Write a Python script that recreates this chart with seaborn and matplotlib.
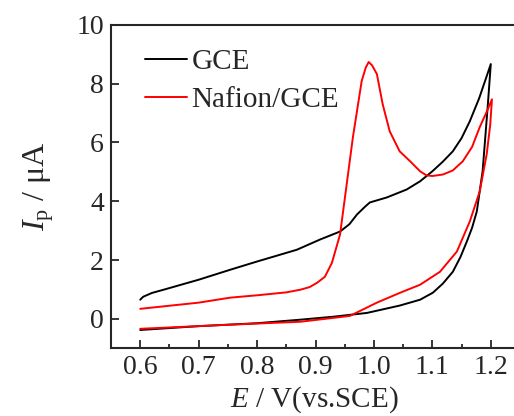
import matplotlib
matplotlib.use("Agg")
import matplotlib.pyplot as plt
import numpy as np
import seaborn as sns
from matplotlib.ticker import MultipleLocator

# GCE: forward scan then reverse scan (E in V, I in uA)
gce_e = [0.60, 0.605, 0.62, 0.64, 0.70, 0.754, 0.80, 0.868, 0.908, 0.942, 0.958,
         0.971, 0.985, 0.993, 1.005, 1.022, 1.056, 1.079, 1.10, 1.118, 1.135,
         1.15, 1.164, 1.18, 1.192, 1.20,
         1.195, 1.186, 1.176, 1.168, 1.159, 1.148, 1.135, 1.118, 1.101, 1.079,
         1.044, 0.988, 0.93, 0.874, 0.80, 0.70, 0.60]
gce_i = [0.65, 0.75, 0.88, 0.99, 1.33, 1.67, 1.95, 2.35, 2.70, 2.97, 3.22,
         3.55, 3.82, 3.96, 4.03, 4.13, 4.40, 4.68, 5.02, 5.35, 5.70,
         6.15, 6.72, 7.50, 8.20, 8.67,
         7.30, 5.02, 3.65, 3.10, 2.63, 2.10, 1.60, 1.20, 0.89, 0.65,
         0.45, 0.20, 0.07, -0.03, -0.15, -0.25, -0.38]

# Nafion/GCE
naf_e = [0.60, 0.70, 0.754, 0.80, 0.85, 0.874, 0.89, 0.903, 0.916, 0.928, 0.942,
         0.964, 0.979, 0.986, 0.991, 0.997, 1.005, 1.015, 1.027, 1.044, 1.062,
         1.079, 1.09, 1.10, 1.118, 1.135, 1.152, 1.168, 1.181, 1.192, 1.202,
         1.199, 1.193, 1.181, 1.164, 1.142, 1.113, 1.079, 1.044, 1.005, 0.959,
         0.93, 0.874, 0.754, 0.60]
naf_i = [0.34, 0.55, 0.72, 0.80, 0.90, 0.99, 1.08, 1.23, 1.43, 1.90, 2.87,
         6.18, 8.09, 8.55, 8.74, 8.62, 8.33, 7.30, 6.38, 5.70, 5.36,
         5.02, 4.88, 4.86, 4.91, 5.05, 5.36, 5.85, 6.52, 7.00, 7.47,
         6.60, 5.60, 4.33, 3.31, 2.29, 1.60, 1.16, 0.88, 0.55, 0.10,
         0.03, -0.10, -0.20, -0.34]

sns.set_style("ticks")
plt.rcParams['font.family'] = ['Liberation Serif', 'DejaVu Serif']
plt.rcParams['mathtext.fontset'] = 'custom'
plt.rcParams['mathtext.rm'] = 'Liberation Serif'
plt.rcParams['mathtext.it'] = 'Liberation Serif:italic'

fig = plt.figure(figsize=(5.14, 4.16), dpi=100)
ax = fig.add_axes([0.216, 0.163, 0.79, 0.777])

sns.lineplot(x=gce_e, y=gce_i, sort=False, estimator=None, color="black",
             linewidth=1.4, label="GCE", ax=ax)
sns.lineplot(x=naf_e, y=naf_i, sort=False, estimator=None, color="red",
             linewidth=1.4, label="Nafion/GCE", ax=ax)

ax.set_xlim(0.55, 1.245)
ax.set_ylim(-1, 10)
ax.xaxis.set_minor_locator(MultipleLocator(0.05))
ax.set_xticks([0.6, 0.7, 0.8, 0.9, 1.0, 1.1, 1.2])
ax.set_xticklabels(["0.6", "0.7", "0.8", "0.9", "1.0", "1.1", "1.2"])
ax.set_yticks([0, 2, 4, 6, 8, 10])
ax.tick_params(which="both", direction="in", labelsize=20, width=1.3)
ax.tick_params(which="major", length=6, pad=5)
ax.tick_params(which="minor", length=3)
for s in ax.spines.values():
    s.set_linewidth(1.5)

ax.set_xlabel(r"$E$ / V(vs.SCE)", fontsize=21, labelpad=3)
ax.set_ylabel(r"$I_{\rm p}$ / μA", fontsize=23, labelpad=15)

ax.legend(loc="upper left", frameon=False, fontsize=21, handlelength=1.45,
          handletextpad=0.15, labelspacing=0.4, borderaxespad=0.2,
          bbox_to_anchor=(0.04, 0.98))

plt.savefig("out.png", dpi=100)
